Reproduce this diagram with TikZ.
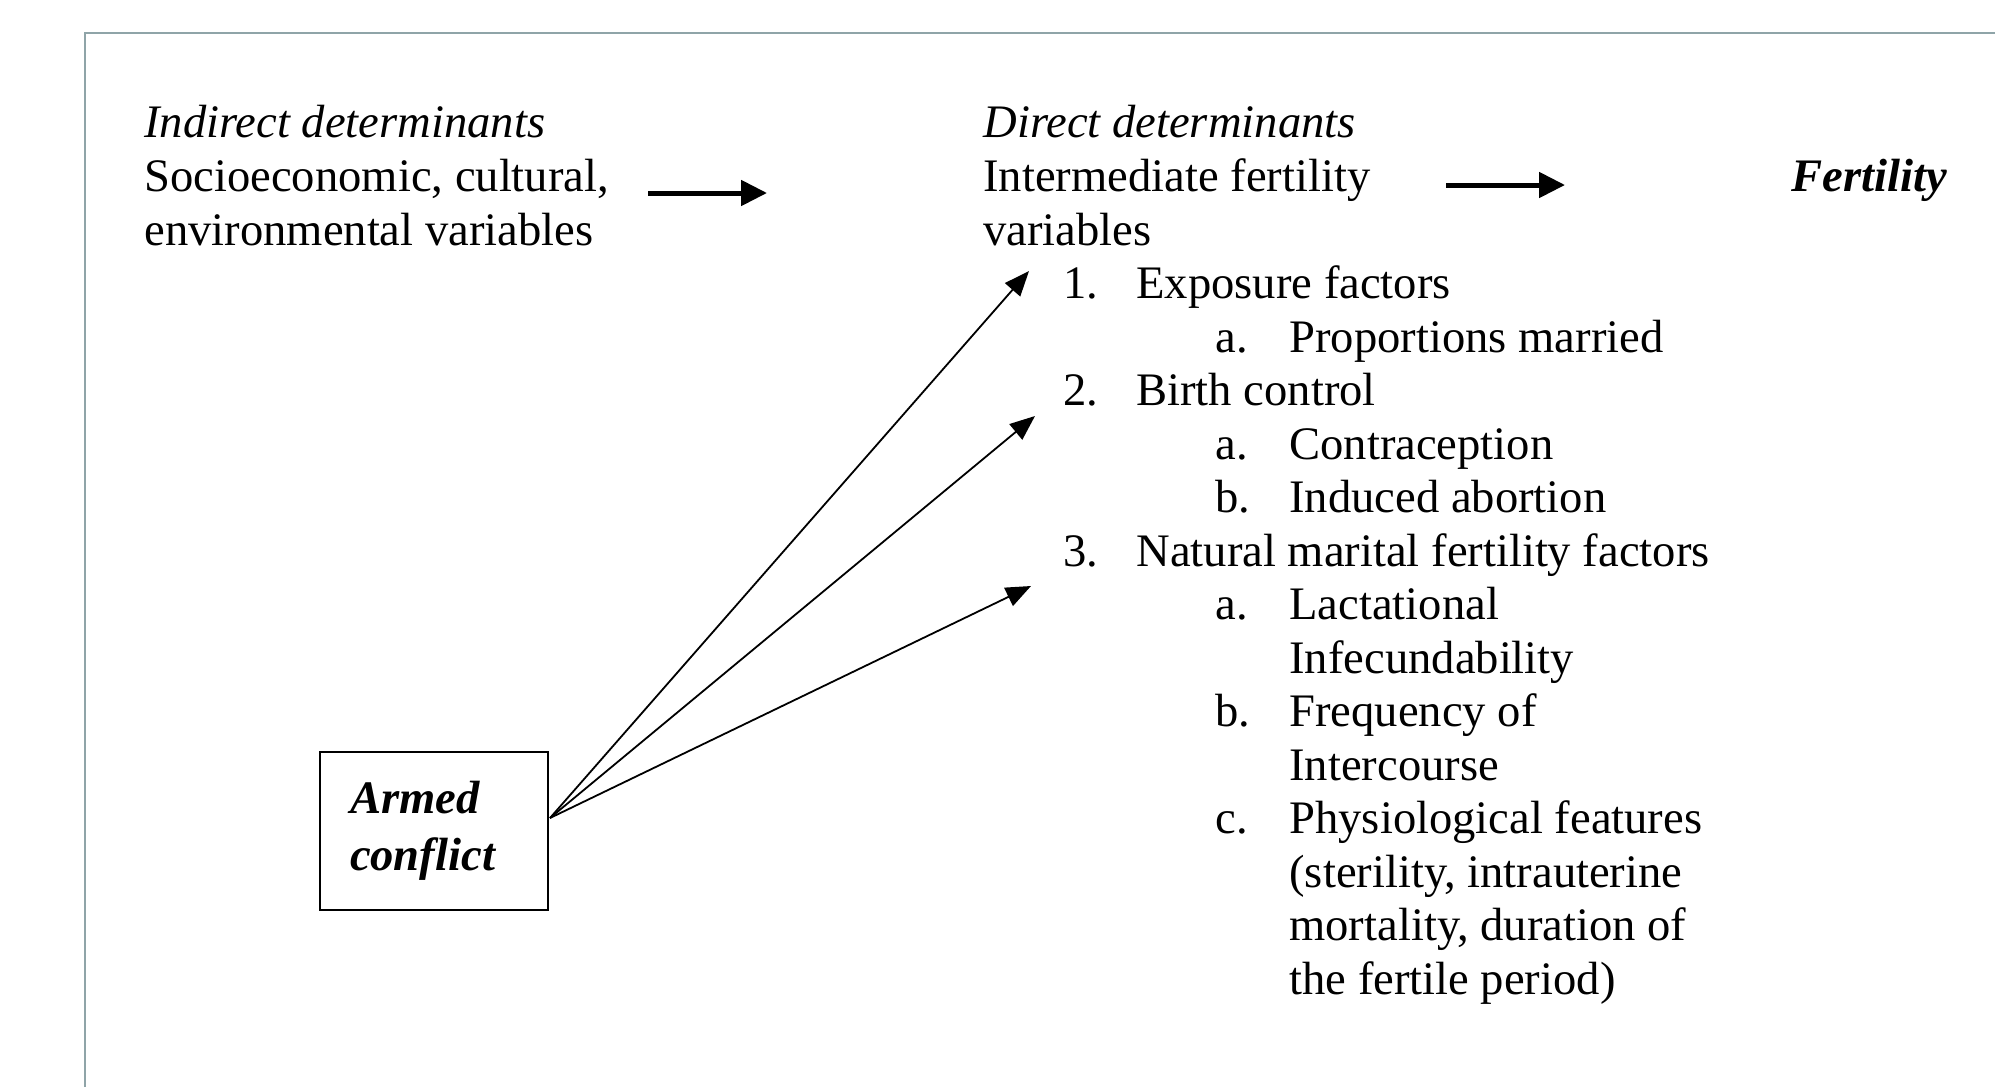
\documentclass[tikz,border=0pt]{standalone}
\usepackage{fontspec}
\setmainfont{Liberation Serif}
\usetikzlibrary{arrows.meta}
\definecolor{framecol}{RGB}{143,164,168}
\begin{document}
\begin{tikzpicture}[x=0.5pt,y=-0.5pt,
  every node/.style={font=\fontsize{23.3pt}{28pt}\selectfont, inner sep=0pt},
  txt/.style={anchor=base west},
  itx/.style={anchor=base west, font=\fontsize{23.3pt}{28pt}\selectfont\itshape},
  bigarrow/.style={line width=2.5pt, -{Triangle[length=13pt,width=12.5pt]}},
  thinarrow/.style={line width=0.9pt, -{Triangle[length=12.5pt,width=10pt]}},
  frameline/.style={draw=framecol, line width=1.3pt}]
\useasboundingbox (0,0) rectangle (1995,1087);
% frame
\coordinate (fl) at (85,1087);
\coordinate (fc) at (85,33);
\coordinate (fr) at (1995,33);
\draw[frameline] (fl) -- (fc) -- (fr);
% indirect determinants
\node[itx] (ind) at (144,137) {Indirect determinants};
\node[txt] (socio) at (144,191) {Socioeconomic, cultural,};
\node[txt] (env) at (144,245) {environmental variables};
% direct determinants
\node[itx] (dir) at (983,137) {Direct determinants};
\node[txt] (inter) at (983,191) {Intermediate fertility};
\node[txt] (vars) at (983,245) {variables};
% fertility
\node[anchor=base west, font=\fontsize{23.3pt}{28pt}\selectfont\bfseries\itshape] (fert) at (1791,191) {Fertility};
% thick arrows
\coordinate (a1s) at (648,193);
\coordinate (a1e) at (767,193);
\coordinate (a2s) at (1446,185);
\coordinate (a2e) at (1565,185);
\draw[bigarrow] (a1s) -- (a1e);
\draw[bigarrow] (a2s) -- (a2e);
% list
\node[txt] (n1) at (1063,298) {1.};
\node[txt] (t1) at (1136,298) {Exposure factors};
\node[txt] (l1a) at (1215,352) {a.};
\node[txt] (s1a) at (1289,352) {Proportions married};
\node[txt] (n2) at (1063,405) {2.};
\node[txt] (t2) at (1136,405) {Birth control};
\node[txt] (l2a) at (1215,459) {a.};
\node[txt] (s2a) at (1289,459) {Contraception};
\node[txt] (l2b) at (1215,512) {b.};
\node[txt] (s2b) at (1289,512) {Induced abortion};
\node[txt] (n3) at (1063,566) {3.};
\node[txt] (t3) at (1136,566) {Natural marital fertility factors};
\node[txt] (l3a) at (1215,619) {a.};
\node[txt] (s3a) at (1289,619) {Lactational};
\node[txt] (s3a2) at (1289,673) {Infecundability};
\node[txt] (l3b) at (1215,726) {b.};
\node[txt] (s3b) at (1289,726) {Frequency of};
\node[txt] (s3b2) at (1289,780) {Intercourse};
\node[txt] (l3c) at (1215,833) {c.};
\node[txt] (s3c) at (1289,833) {Physiological features};
\node[txt] (s3c2) at (1289,887) {(sterility, intrauterine};
\node[txt] (s3c3) at (1289,940) {mortality, duration of};
\node[txt] (s3c4) at (1289,994) {the fertile period)};
% armed conflict box
\node[draw, line width=1pt, text width=84pt, inner xsep=15pt, minimum height=79pt, align=left,
      font=\fontsize{23.3pt}{28.5pt}\selectfont\bfseries\itshape] (armed) at (434,831) {Armed\\conflict};
\coordinate (src) at (550,818);
\coordinate (tip1) at (1029,271);
\coordinate (tip2) at (1035,416);
\coordinate (tip3) at (1031,586);
\draw[thinarrow] (src) -- (tip1);
\draw[thinarrow] (src) -- (tip2);
\draw[thinarrow] (src) -- (tip3);
\end{tikzpicture}
\end{document}
